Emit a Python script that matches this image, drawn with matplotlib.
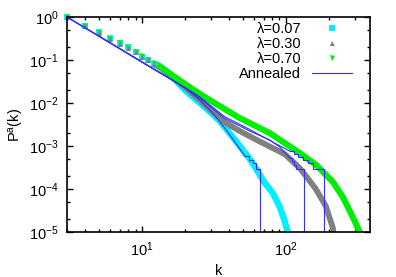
import matplotlib
matplotlib.use("Agg")
import matplotlib.pyplot as plt
from matplotlib.ticker import LogLocator, NullFormatter

plt.rcParams['font.family'] = ['Liberation Sans', 'DejaVu Sans']
plt.rcParams['axes.unicode_minus'] = False
plt.rcParams['mathtext.default'] = 'regular'

# quenched data, small k (distinct markers)
k_small = [3, 4, 5, 6, 7, 8, 9, 10, 11, 12]
p07_small = [1, 0.63, 0.44, 0.32, 0.245, 0.197, 0.155, 0.12, 0.10, 0.083]
p30_small = [1, 0.62, 0.43, 0.312, 0.240, 0.192, 0.151, 0.118, 0.098, 0.081]
p70_small = [1, 0.62, 0.435, 0.315, 0.243, 0.195, 0.154, 0.121, 0.100, 0.084]

# quenched data, dense tail (merged into a band)
k07 = [12, 13.3, 15.6, 19.8, 25.2, 30, 34.6, 40, 47.7, 56, 62.6, 70, 81, 90, 96, 104]
p07 = [0.083, 0.0706, 0.0472, 0.020, 0.0100, 0.0060, 0.0038, 0.0021, 1.0e-3,
       5.0e-4, 2.8e-4, 1.5e-4, 8.0e-5, 4.0e-5, 2.2e-5, 9e-6]
k30 = [12, 13.3, 15.6, 19.8, 25.2, 30.5, 37.5, 47.7, 60.7, 77.1, 97.9, 124.5,
       139.3, 161.2, 189.2, 211.8, 215]
p30 = [0.081, 0.067, 0.0448, 0.0236, 0.0117, 6.5e-3, 3.6e-3, 2.23e-3, 1.46e-3,
       9.7e-4, 6.5e-4, 3.08e-4, 1.9e-4, 1.0e-4, 4.0e-5, 1.24e-5, 9e-6]
k70 = [12, 13.3, 15.6, 19.8, 25.2, 34.6, 47.7, 77.1, 124.5, 162.6, 211.8, 248.6,
       291.9, 325, 330]
p70 = [0.084, 0.0706, 0.0485, 0.0277, 0.0162, 0.0085, 4.48e-3, 2.0e-3, 6.9e-4,
       3.6e-4, 1.46e-4, 6.5e-5, 2.2e-5, 1.0e-5, 8e-6]

# annealed curves: smooth part + stepped tail
ka_a = [3, 5, 8, 12, 16, 20, 25.2, 30.5, 37.5, 44.1, 51.7]
pa_a = [1, 0.355, 0.138, 0.061, 0.0345, 0.022, 0.0117, 6.2e-3, 2.62e-3, 1.24e-3, 5.85e-4]
ka_a_tail = [51.7, 55, 58.8, 61.5, 66.4]
pa_a_tail = [5.85e-4, 4.7e-4, 4.0e-4, 2.9e-4, 1e-7]

ka_b = [3, 5, 8, 12, 16, 20, 25.2, 37.5, 56, 77.1, 90.4, 106.2]
pa_b = [1, 0.36, 0.14, 0.062, 0.035, 0.0222, 0.0131, 4.4e-3, 2.23e-3, 1.38e-3, 9.5e-4, 5.3e-4]
ka_b_tail = [106.2, 110, 114, 118, 133]
pa_b_tail = [5.3e-4, 4.5e-4, 3.7e-4, 2.9e-4, 1e-7]

ka_c = [3, 5, 8, 12, 16, 20, 25.2, 37.5, 56, 83.4, 106.2]
pa_c = [1, 0.365, 0.142, 0.063, 0.0355, 0.0226, 0.0138, 4.8e-3, 2.42e-3, 1.17e-3, 7.6e-4]
ka_c_tail = [106.2, 114, 122, 131, 141.6, 154, 183]
pa_c_tail = [7.6e-4, 6.6e-4, 5.6e-4, 4.8e-4, 4.0e-4, 2.9e-4, 1e-7]

cyan = '#00f0ff'
gray = '#808080'
green = '#00ee00'
blue = '#2f2fff'

fig = plt.figure(figsize=(3.96, 2.77), dpi=100)
ax = fig.add_axes([0.169, 0.1625, 0.765, 0.776])

# bands for the dense part of each data set
ax.plot(k07, p07, color=cyan, lw=4.6, solid_capstyle='butt')
ax.plot(k30, p30, color=gray, lw=4.2, solid_capstyle='butt')
ax.plot(k70, p70, color=green, lw=4.4, solid_capstyle='butt')

# small k markers (gray drawn last so it sits on top, like the original)
ax.plot(k_small, p07_small, 's', color=cyan, ms=4.4, mew=0, clip_on=False, label='λ=0.07')
ax.plot(k_small, p70_small, 'v', color=green, ms=3.6, mew=0, clip_on=False, label='λ=0.70')
ax.plot(k_small, p30_small, '^', color=gray, ms=3.6, mew=0, clip_on=False, label='λ=0.30')

# annealed
ax.plot(ka_a, pa_a, color=blue, lw=0.8, label='Annealed')
ax.plot(ka_a_tail, pa_a_tail, color=blue, lw=0.8, drawstyle='steps-post')
ax.plot(ka_b, pa_b, color=blue, lw=0.8)
ax.plot(ka_b_tail, pa_b_tail, color=blue, lw=0.8, drawstyle='steps-post')
ax.plot(ka_c, pa_c, color=blue, lw=0.8)
ax.plot(ka_c_tail, pa_c_tail, color=blue, lw=0.8, drawstyle='steps-post')

ax.set_xscale('log')
ax.set_yscale('log')
ax.set_xlim(3, 383)
ax.set_ylim(1e-5, 1)

ax.yaxis.set_minor_locator(LogLocator(base=10, subs=(2, 5)))
ax.yaxis.set_minor_formatter(NullFormatter())
ax.xaxis.set_minor_locator(LogLocator(base=10, subs=range(2, 10)))
ax.xaxis.set_minor_formatter(NullFormatter())

ax.tick_params(which='both', direction='in', top=True, right=True, labelsize=10.5)
ax.tick_params(which='major', length=4, width=1, pad=6)
ax.tick_params(which='minor', length=2, width=1)
for s in ax.spines.values():
    s.set_linewidth(1.2)

ax.set_xlabel('k', fontsize=10.5, labelpad=4)
ax.set_ylabel('P$^{a}$(k)', fontsize=10.5, labelpad=2)

# legend in original order
handles, labels = ax.get_legend_handles_labels()
order = ['λ=0.07', 'λ=0.30', 'λ=0.70', 'Annealed']
hs = [handles[labels.index(o)] for o in order]
ax.legend(hs, order, loc='upper right', bbox_to_anchor=(0.94, 0.975), frameon=False,
          markerfirst=False, fontsize=10.5, handlelength=2.75, handletextpad=0.7,
          labelspacing=0.065, borderpad=0, borderaxespad=0)

fig.savefig('out.png', dpi=100)
